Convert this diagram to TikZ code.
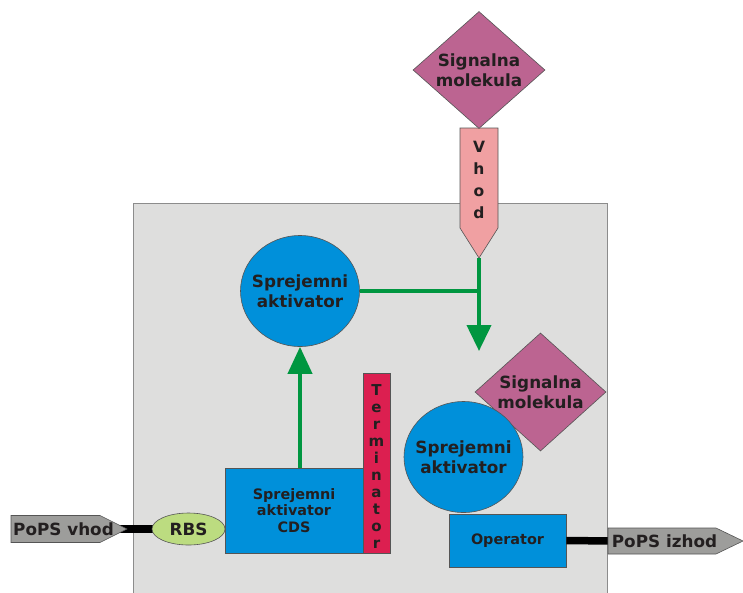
\documentclass[tikz,border=0pt]{standalone}
\usepackage{fontspec}
\setmainfont{DejaVu Sans}
\usetikzlibrary{shapes.geometric,arrows.meta}

\definecolor{cellfill}{HTML}{DEDEDD}
\definecolor{celledge}{HTML}{8C8C8C}
\definecolor{molecule}{HTML}{BC6491}
\definecolor{inputpink}{HTML}{F0A0A2}
\definecolor{protein}{HTML}{0090DA}
\definecolor{signalgreen}{HTML}{009640}
\definecolor{termred}{HTML}{DC1F50}
\definecolor{rbsgreen}{HTML}{BCDC80}
\definecolor{popsgrey}{HTML}{9D9D9B}
\definecolor{ink}{HTML}{231F20}
\definecolor{outline}{HTML}{555555}

\tikzset{
  partbox/.style={draw=outline, line width=0.6pt, inner sep=0pt},
  molbox/.style={partbox, diamond, fill=molecule, minimum width=132pt, minimum height=117pt},
  actbox/.style={partbox, ellipse, fill=protein, minimum width=119pt, minimum height=111pt},
  cdsbox/.style={partbox, rectangle, fill=protein},
  txt/.style={text=ink, align=center, inner sep=0pt},
  bigtxt/.style={txt, font=\bfseries\fontsize{16.8}{20.5}\selectfont},
  midtxt/.style={txt, font=\bfseries\fontsize{14.4}{16.8}\selectfont},
  gline/.style={draw=signalgreen, line width=4pt},
  dnabar/.style={draw=black, line width=7.5pt},
  outlined/.style={draw=outline, line width=0.6pt}
}

\begin{document}
\begin{tikzpicture}[x=1pt,y=-1pt]
  \clip (0,0) rectangle (743,592);
  \fill[white] (0,0) rectangle (743,592);

  % cell
  \draw[fill=cellfill, draw=celledge, line width=1pt] (133,203) rectangle (607,600);

  % input arrow of the device
  \draw[outlined, fill=inputpink] (460,128) -- (498,128) -- (498,228) -- (479,258) -- (460,228) -- cycle;
  \coordinate (vhodtip) at (479,258);
  \node[txt, font=\bfseries\fontsize{15.5}{22}\selectfont] (vhod) at (479,180) {V\\h\\o\\d};

  % signal molecule outside
  \node[molbox] (mol1) at (479,70) {};
  \node[bigtxt] (mol1txt) at (mol1) {Signalna\\molekula};

  % receptor activator (free)
  \node[actbox] (act1) at (300,291) {};
  \node[bigtxt] (act1txt) at (act1) {Sprejemni\\aktivator};

  % coding sequence and terminator
  \node[cdsbox, minimum width=138pt, minimum height=85pt] (cds) at (294,510.5) {};
  \node[midtxt] (cdstxt) at (cds) {Sprejemni\\aktivator\\CDS};
  \node[partbox, fill=termred, minimum width=27pt, minimum height=180pt] (term) at (376.5,463) {};
  \node[txt, font=\bfseries\fontsize{15}{17}\selectfont] (termtxt) at (376.5,467) {T\\e\\r\\m\\i\\n\\a\\t\\o\\r};

  % PoPS input
  \draw[dnabar] (119,529) -- (160,529);
  \draw[outlined, fill=popsgrey] (11,515.5) -- (100,515.5) -- (127,529) -- (100,542.5) -- (11,542.5) -- cycle;
  \node[bigtxt] (popsin) at (63.5,529) {PoPS vhod};
  \node[partbox, ellipse, fill=rbsgreen, minimum width=73pt, minimum height=32pt] (rbs) at (188.5,529) {};
  \node[bigtxt] (rbstxt) at (rbs) {RBS};

  % operator and PoPS output
  \node[cdsbox, minimum width=117pt, minimum height=53pt] (op) at (507.5,540.5) {};
  \node[midtxt] (optxt) at (op) {Operator};
  \draw[dnabar] (op.east) -- (612,541);
  \draw[outlined, fill=popsgrey] (608,528) -- (716,528) -- (743,541) -- (716,554) -- (608,554) -- cycle;
  \node[bigtxt] (popsout) at (664.5,541) {PoPS izhod};

  % bound complex
  \node[molbox, minimum width=131pt, minimum height=118pt] (mol2) at (540.5,392) {};
  \node[bigtxt] (mol2txt) at (mol2) {Signalna\\molekula};
  \node[actbox] (act2) at (463.5,457) {};
  \node[bigtxt] (act2txt) at (act2) {Sprejemni\\aktivator};

  % signalling connectors
  \coordinate (down) at (479,351);
  \draw[gline, -{Triangle[width=24pt,length=26pt]}] (vhodtip) -- (down);
  \draw[gline] (act1.east) -- (act1.east -| vhodtip);
  \draw[gline, -{Triangle[width=24pt,length=27pt]}] (cds.north -| act1.south) -- (act1.south);
\end{tikzpicture}
\end{document}
